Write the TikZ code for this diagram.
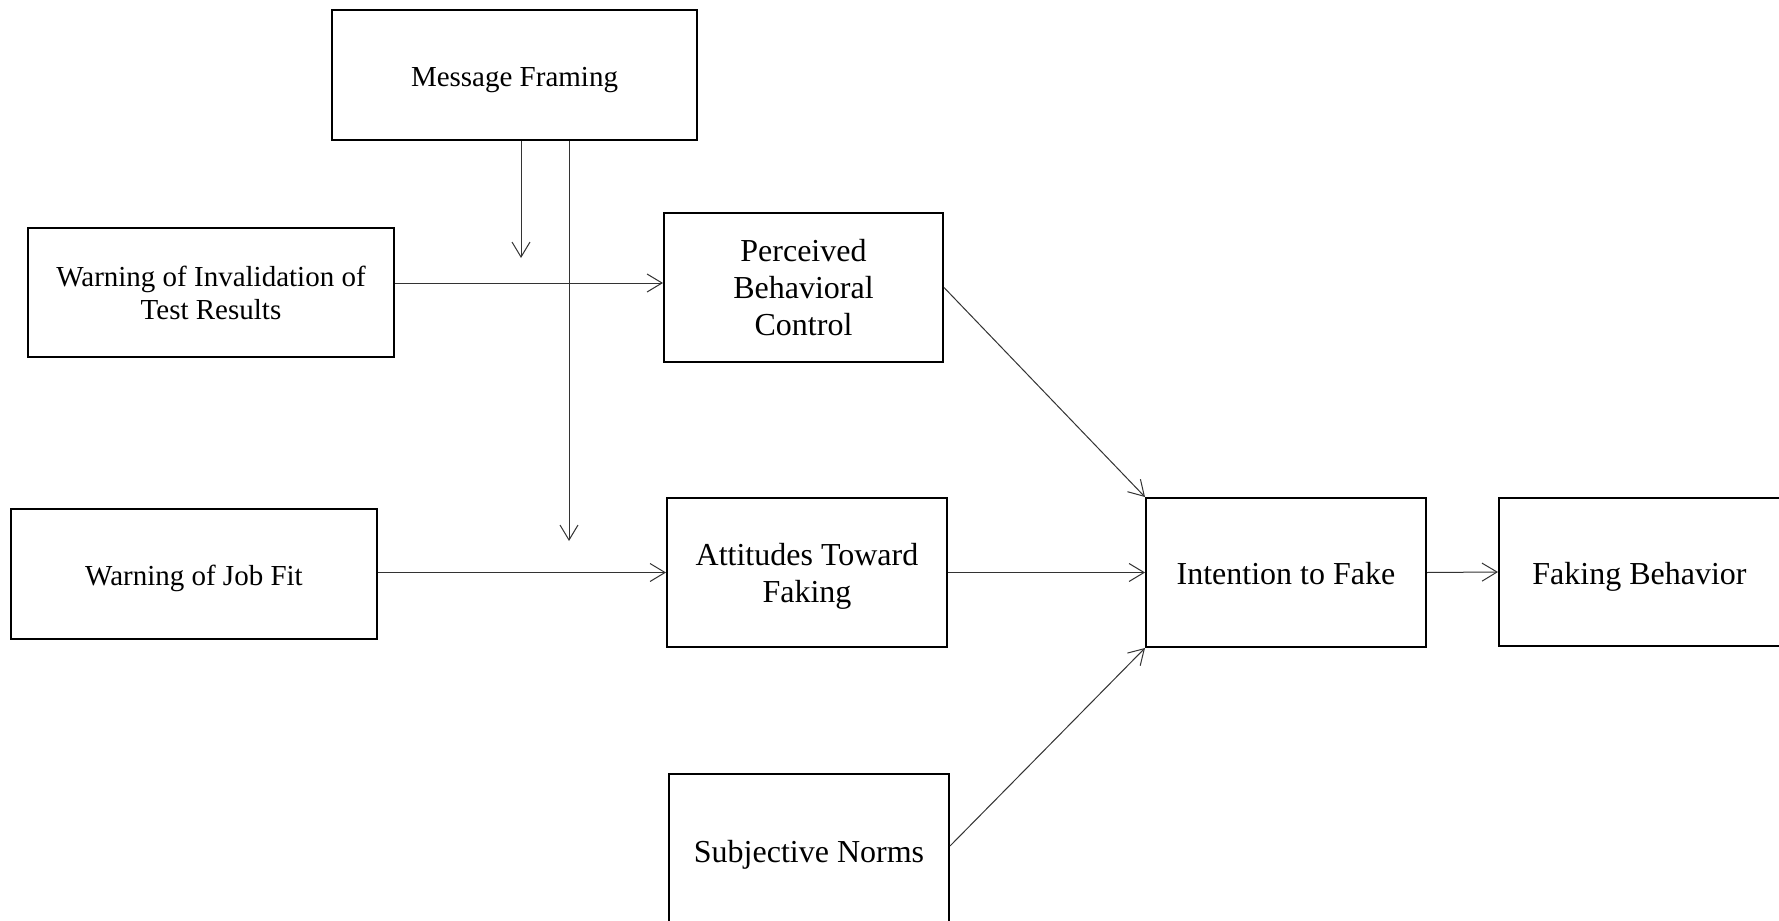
\documentclass[tikz,border=0pt]{standalone}
\usepackage{fontspec}
\setmainfont{Liberation Serif}
\usetikzlibrary{arrows.meta}

\tikzset{
  box/.style={draw=black, line width=1pt, fill=white, inner sep=0pt, align=center, text depth=0pt},
  smallbox/.style={box, font=\fontsize{14.5}{16.5}\selectfont},
  bigbox/.style={box, font=\fontsize{16}{18.4}\selectfont},
  onesmall/.style={smallbox, text height=11.4pt},
  onebig/.style={bigbox, text height=12.2pt},
  arr/.style={draw=black!80, line width=0.5pt, -{Straight Barb[length=7.5pt,width=9pt,line width=0.5pt]}}
}

\begin{document}
\begin{tikzpicture}[x=0.5pt, y=-0.5pt]
  \useasboundingbox (0,0) rectangle (1779,921);
  \fill[white] (0,0) rectangle (1779,921);
  \begin{scope}
    \clip (0,0) rectangle (1779,921);

    % boxes
    \node[onesmall, minimum width=182.5pt, minimum height=65pt] (mf) at (514.5,75) {Message Framing};
    \node[smallbox, minimum width=183pt, minimum height=64.5pt] (woi) at (211,292.5) {Warning of Invalidation of\\Test Results};
    \node[onesmall, minimum width=183pt, minimum height=65pt] (wjf) at (194,574) {Warning of Job Fit};
    \node[bigbox, minimum width=139.5pt, minimum height=74.5pt] (pbc) at (803.5,287.5) {Perceived\\Behavioral\\Control};
    \node[bigbox, minimum width=140pt, minimum height=74.5pt] (atf) at (807,572.5) {Attitudes Toward\\Faking};
    \node[onebig, minimum width=140pt, minimum height=76pt] (sn) at (809,850) {Subjective Norms};
    \node[onebig, minimum width=140pt, minimum height=74.5pt] (int) at (1286,572.5) {Intention to Fake};
    \node[onebig, minimum width=140.5pt, minimum height=74pt] (fb) at (1639.5,572) {Faking Behavior};

    % free ends of the moderating arrows
    \coordinate (m1) at (521,258);
    \coordinate (m2) at (569,541);

    % connectors
    \draw[arr] (m1 |- mf.south) -- (m1);
    \draw[arr] (m2 |- mf.south) -- (m2);
    \draw[arr] (woi.east |- 0,283) -- (pbc.west |- 0,283);
    \draw[arr] (wjf.east |- atf.west) -- (atf.west);
    \draw[arr] (pbc.east) -- (int.north west);
    \draw[arr] (atf.east) -- (int.west);
    \draw[arr] ([yshift=2pt]sn.east) -- (int.south west);
    \draw[arr] (int.east) -- (fb.west);
  \end{scope}
\end{tikzpicture}
\end{document}
